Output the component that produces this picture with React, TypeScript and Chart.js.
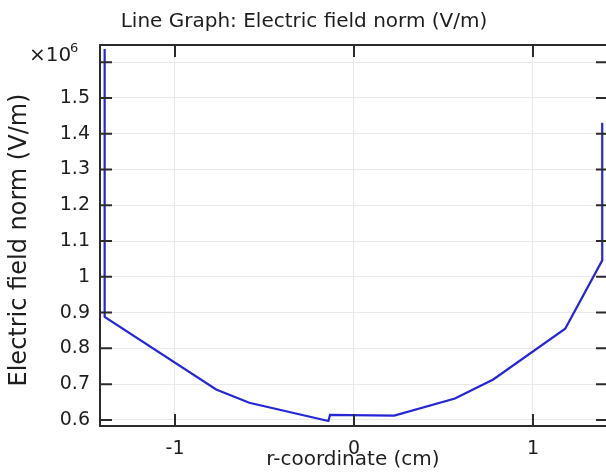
import React, { useEffect, useRef } from "react";
import { Chart, registerables } from "chart.js";

Chart.register(...registerables);

// r-coordinate (cm)
const rCoord = [-1.393, -1.393, -0.77, -0.585, -0.143, -0.134, 0.225, 0.564, 0.778, 1.18, 1.387, 1.387];
// Electric field norm (V/m)
const eNorm = [1637000, 888000, 685000, 648000, 597000, 614000, 612000, 660000, 713000, 855000, 1046000, 1431000];

const xTicks = [-1, 0, 1];
const yTicks = [0.6, 0.7, 0.8, 0.9, 1.0, 1.1, 1.2, 1.3, 1.4, 1.5, 1.6];
const yHiddenTick = 1.6;

const titleText = "Line Graph: Electric field norm (V/m)";
const xTitle = "r-coordinate (cm)";
const yTitle = "Electric field norm (V/m)";

const FONT = "'DejaVu Sans', sans-serif";
const TEXT = "#1e1e1e";

const decor = {
  id: "decor",
  afterDatasetsDraw(chart: any) {
    const { ctx, chartArea } = chart;
    const { left, right, top, bottom } = chartArea;
    const xs = chart.scales.x;
    const ys = chart.scales.y;
    ctx.save();
    ctx.strokeStyle = "#2b2b2b";
    ctx.lineWidth = 2;
    ctx.beginPath();
    ctx.moveTo(left, top);
    ctx.lineTo(right + 2, top);
    ctx.moveTo(left, top - 1);
    ctx.lineTo(left, bottom + 1);
    ctx.moveTo(left, bottom);
    ctx.lineTo(right + 2, bottom);
    ctx.stroke();
    // inward ticks
    ctx.beginPath();
    xTicks.forEach((v) => {
      const px = xs.getPixelForValue(v);
      ctx.moveTo(px, bottom);
      ctx.lineTo(px, bottom - 12);
      ctx.moveTo(px, top);
      ctx.lineTo(px, top + 12);
    });
    yTicks.forEach((v) => {
      const py = ys.getPixelForValue(v * 1e6);
      ctx.moveTo(left, py);
      ctx.lineTo(left + 12, py);
      ctx.moveTo(right + 2, py);
      ctx.lineTo(right - 10, py);
    });
    ctx.stroke();
    ctx.restore();
  },
  afterDraw(chart: any) {
    const { ctx } = chart;
    ctx.save();
    ctx.fillStyle = TEXT;
    ctx.textAlign = "center";
    ctx.textBaseline = "middle";
    ctx.font = `20px ${FONT}`;
    ctx.fillText(titleText, 304, 22);
    ctx.fillText(xTitle, 353, 460);
    ctx.save();
    ctx.translate(20, 240);
    ctx.rotate(-Math.PI / 2);
    ctx.font = `24px ${FONT}`;
    ctx.fillText(yTitle, 0, 0);
    ctx.restore();
    // exponent
    ctx.textAlign = "left";
    ctx.font = `20px ${FONT}`;
    ctx.fillText("\u00d710", 29, 56);
    ctx.font = `13px ${FONT}`;
    ctx.fillText("6", 70, 49);
    ctx.restore();
  },
};

export default function App() {
  const ref = useRef<HTMLCanvasElement>(null);
  useEffect(() => {
    if (!ref.current) return;
    const chart = new Chart(ref.current, {
      type: "scatter",
      data: {
        datasets: [
          {
            data: rCoord.map((r, i) => ({ x: r, y: eNorm[i] })),
            showLine: true,
            borderColor: "rgb(38,38,215)",
            backgroundColor: "rgb(38,38,215)",
            borderWidth: 2.2,
            pointRadius: 0,
            tension: 0,
          },
        ],
      },
      options: {
        animation: false,
        responsive: false,
        layout: { padding: { top: 45, left: 0, right: 0, bottom: 0 } },
        plugins: { legend: { display: false }, tooltip: { enabled: false }, title: { display: false } },
        scales: {
          x: {
            type: "linear",
            min: -1.419,
            max: 1.408,
            afterFit: (s: any) => {
              s.height = 50;
            },
            afterBuildTicks: (s: any) => {
              s.ticks = xTicks.map((v) => ({ value: v }));
            },
            grid: { color: "#e9e9e9", drawTicks: false, lineWidth: 1 },
            border: { display: false },
            ticks: {
              padding: 12,
              color: TEXT,
              font: { family: FONT, size: 19 },
              maxRotation: 0,
              callback: (v: any) => String(v),
            },
          },
          y: {
            type: "linear",
            min: 583000,
            max: 1648000,
            afterFit: (s: any) => {
              s.width = 100;
            },
            afterBuildTicks: (s: any) => {
              s.ticks = yTicks.map((v) => ({ value: Math.round(v * 1e6) }));
            },
            grid: { color: "#e9e9e9", drawTicks: false, lineWidth: 1 },
            border: { display: false },
            ticks: {
              padding: 10,
              color: TEXT,
              font: { family: FONT, size: 19 },
              callback: (v: any) => {
                const n = Math.round(Number(v) / 1e5) / 10;
                return n === yHiddenTick ? "" : String(n);
              },
            },
          },
        },
      },
      plugins: [decor],
    });
    return () => chart.destroy();
  }, []);
  return (
    <div style={{ position: "absolute", left: 0, top: 0, width: 606, height: 476, background: "#fff" }}>
      <canvas ref={ref} width={606} height={476} style={{ display: "block" }} />
    </div>
  );
}
